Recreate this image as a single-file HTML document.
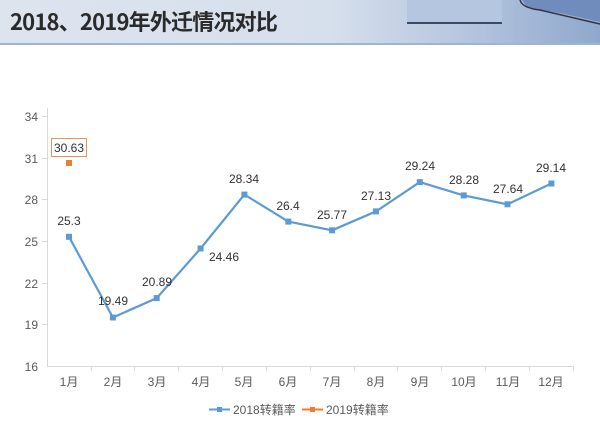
<!DOCTYPE html>
<html><head><meta charset="utf-8"><style>
body{margin:0;width:600px;height:425px;background:#fff;overflow:hidden;font-family:"Liberation Sans","Noto Sans CJK SC",sans-serif}
.hdr{position:absolute;left:0;top:0;width:600px;height:45px;background:linear-gradient(90deg,#dde4ee 0%,#d6dfec 55%,#b9c9e0 75%,#8fa8cc 100%)}
.t{position:absolute;left:10px;top:5px;font-size:22px;font-weight:bold;color:#2a2a2a;font-family:"Noto Sans CJK SC",sans-serif;letter-spacing:-0.8px}
</style></head><body>
<div class="hdr"></div>
<svg style="position:absolute;left:0;top:0" width="600" height="45">
<rect x="407" y="0" width="95" height="24" fill="#b4c6e0"/><rect x="407" y="22" width="95" height="2" fill="#3a4a66"/>
<path d="M522 0 L600 0 L600 22 Q560 12 528 8 Z" fill="#6f8cbc"/><path d="M520 0 Q522 8 540 10 L600 24" stroke="#334" stroke-width="1.5" fill="none"/>
<rect x="0" y="43" width="600" height="2" fill="#9fb3d3"/>
</svg>
<div class="t">2018、2019年外迁情况对比</div>
<svg style="position:absolute;left:0;top:0" width="600" height="425" font-family="Liberation Sans,Noto Sans CJK SC,sans-serif" font-size="12" fill="#595959">
<g stroke="#d9d9d9" stroke-width="1">
<line x1="47.5" y1="108" x2="47.5" y2="366"/>
<line x1="47" y1="366.5" x2="573" y2="366.5"/>
<line x1="42" y1="116.5" x2="47" y2="116.5"/><line x1="42" y1="158.5" x2="47" y2="158.5"/><line x1="42" y1="199.5" x2="47" y2="199.5"/><line x1="42" y1="241.5" x2="47" y2="241.5"/><line x1="42" y1="283.5" x2="47" y2="283.5"/><line x1="42" y1="324.5" x2="47" y2="324.5"/>
<line x1="91.5" y1="366" x2="91.5" y2="371"/><line x1="134.5" y1="366" x2="134.5" y2="371"/><line x1="178.5" y1="366" x2="178.5" y2="371"/><line x1="222.5" y1="366" x2="222.5" y2="371"/><line x1="266.5" y1="366" x2="266.5" y2="371"/><line x1="310.5" y1="366" x2="310.5" y2="371"/><line x1="354.5" y1="366" x2="354.5" y2="371"/><line x1="397.5" y1="366" x2="397.5" y2="371"/><line x1="441.5" y1="366" x2="441.5" y2="371"/><line x1="485.5" y1="366" x2="485.5" y2="371"/><line x1="529.5" y1="366" x2="529.5" y2="371"/><line x1="573.5" y1="366" x2="573.5" y2="371"/>
</g>
<g text-anchor="end"><text x="38" y="121">34</text><text x="38" y="163">31</text><text x="38" y="204">28</text><text x="38" y="246">25</text><text x="38" y="288">22</text><text x="38" y="329">19</text><text x="38" y="371">16</text></g>
<g text-anchor="middle">
<text x="69" y="386">1月</text><text x="113" y="386">2月</text><text x="157" y="386">3月</text><text x="201" y="386">4月</text><text x="244" y="386">5月</text><text x="288" y="386">6月</text><text x="332" y="386">7月</text><text x="376" y="386">8月</text><text x="420" y="386">9月</text><text x="464" y="386">10月</text><text x="508" y="386">11月</text><text x="551" y="386">12月</text>
</g>
<polyline fill="none" stroke="#5b9bd5" stroke-width="2.2" points="69,236.8 112.9,317.5 156.7,298.1 200.6,248.5 244.4,194.6 288.3,221.6 332.1,230.3 376,211.4 419.8,182.1 463.7,195.4 507.5,204.3 551.4,183.5"/>
<g fill="#5b9bd5">
<rect x="66" y="233.8" width="6" height="6"/><rect x="109.9" y="314.5" width="6" height="6"/><rect x="153.7" y="295.1" width="6" height="6"/><rect x="197.6" y="245.5" width="6" height="6"/><rect x="241.4" y="191.6" width="6" height="6"/><rect x="285.3" y="218.6" width="6" height="6"/><rect x="329.1" y="227.3" width="6" height="6"/><rect x="373" y="208.4" width="6" height="6"/><rect x="416.8" y="179.1" width="6" height="6"/><rect x="460.7" y="192.4" width="6" height="6"/><rect x="504.5" y="201.3" width="6" height="6"/><rect x="548.4" y="180.5" width="6" height="6"/>
</g>
<rect x="66" y="160" width="6" height="6" fill="#ed7d31"/>
<rect x="51.5" y="138.5" width="35" height="18" fill="#fff" stroke="#e0985e"/>
<g text-anchor="middle" font-size="12" fill="#333">
<text x="69" y="152">30.63</text>
<text x="69" y="225">25.3</text><text x="113" y="305">19.49</text><text x="157" y="286">20.89</text><text x="224" y="261">24.46</text><text x="244" y="183">28.34</text><text x="288" y="210">26.4</text><text x="332" y="219">25.77</text><text x="376" y="200">27.13</text><text x="420" y="170">29.24</text><text x="464" y="184">28.28</text><text x="508" y="193">27.64</text><text x="551" y="172">29.14</text>
</g>
<line x1="209" y1="409.5" x2="230" y2="409.5" stroke="#5b9bd5" stroke-width="2"/><rect x="217" y="407" width="5" height="5" fill="#5b9bd5"/>
<text x="233" y="414">2018转籍率</text>
<line x1="302" y1="409.5" x2="323" y2="409.5" stroke="#ed7d31" stroke-width="2"/><rect x="310" y="407" width="5" height="5" fill="#ed7d31"/>
<text x="326" y="414">2019转籍率</text>
</svg>
</body></html>
